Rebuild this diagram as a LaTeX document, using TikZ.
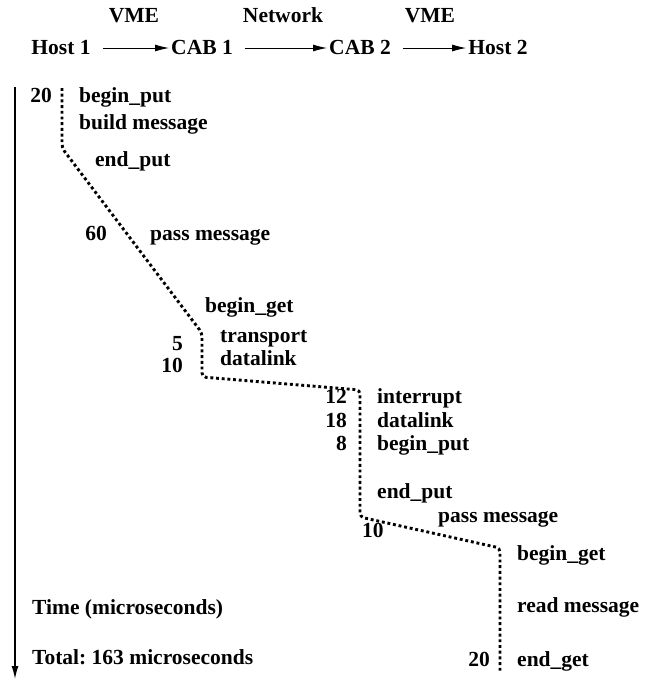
\documentclass[tikz,border=0pt]{standalone}
\usepackage{fontspec}
\setmainfont{Liberation Serif}
\usetikzlibrary{arrows.meta}
\frenchspacing
\begin{document}
\begin{tikzpicture}[x=1pt,y=-1pt,
  lbl/.style={font=\fontsize{21.5}{24}\selectfont\bfseries, inner sep=0pt},
  flow/.style={line width=1pt, -{Latex[length=14pt,width=7pt]}, shorten <=12pt, shorten >=2pt},
  axis/.style={line width=1.4pt, -{Latex[length=13pt,width=7pt]}},
  trace/.style={line width=2.9pt, dash pattern=on 2.9pt off 2.8pt, rounded corners=4pt}]
\useasboundingbox (0,0) rectangle (651,680);

% header: hosts and CABs
\node[lbl, anchor=base] (h1)   at (61,54)  {Host 1};
\node[lbl, anchor=base] (c1)   at (202,54) {CAB 1};
\node[lbl, anchor=base] (c2)   at (360,54) {CAB 2};
\node[lbl, anchor=base] (h2)   at (498,54) {Host 2};
\node[lbl, anchor=base] (vme1) at (134,23) {VME};
\node[lbl, anchor=base] (net)  at (283,23) {Network};
\node[lbl, anchor=base] (vme2) at (430,23) {VME};
\draw[flow] (h1.east |- 0,48) -- (c1.west |- 0,48);
\draw[flow] (c1.east |- 0,48) -- (c2.west |- 0,48);
\draw[flow] (c2.east |- 0,48) -- (h2.west |- 0,48);

% time axis
\coordinate (t0) at (15,87);
\coordinate (t1) at (15,679);
\draw[axis] (t0) -- (t1);

% message trace
\coordinate (p0) at (62,88);
\coordinate (p1) at (62,148);
\coordinate (p2) at (202,333);
\coordinate (p3) at (202,377);
\coordinate (p4) at (360,390);
\coordinate (p5) at (360,517);
\coordinate (p6) at (500,548);
\coordinate (p7) at (500,672);
\draw[trace] (p0) -- (p1) -- (p2) -- (p3) -- (p4) -- (p5) -- (p6) -- (p7);

% host 1
\node[lbl, anchor=base east] (n20a) at (52,102)  {20};
\node[lbl, anchor=base west] (bp1)  at (79,102)  {begin\_put};
\node[lbl, anchor=base west] (bm)   at (79,129)  {build message};
\node[lbl, anchor=base west] (ep1)  at (95,166)  {end\_put};
\node[lbl, anchor=base east] (n60)  at (107,240) {60};
\node[lbl, anchor=base west] (pm1)  at (150,240) {pass message};

% CAB 1
\node[lbl, anchor=base west] (bg1)  at (205,312) {begin\_get};
\node[lbl, anchor=base west] (tr)   at (220,342) {transport};
\node[lbl, anchor=base east] (n5)   at (183,350) {5};
\node[lbl, anchor=base west] (dl1)  at (220,365) {datalink};
\node[lbl, anchor=base east] (n10a) at (183,372) {10};

% CAB 2
\node[lbl, anchor=base east] (n12)  at (347,403) {12};
\node[lbl, anchor=base west] (ir)   at (377,403) {interrupt};
\node[lbl, anchor=base east] (n18)  at (347,427) {18};
\node[lbl, anchor=base west] (dl2)  at (377,427) {datalink};
\node[lbl, anchor=base east] (n8)   at (347,450) {8};
\node[lbl, anchor=base west] (bp2)  at (377,450) {begin\_put};
\node[lbl, anchor=base west] (ep2)  at (377,498) {end\_put};
\node[lbl, anchor=base west] (pm2)  at (438,522) {pass message};
\node[lbl, anchor=base west] (n10b) at (362,537) {10};

% host 2
\node[lbl, anchor=base west] (bg2)  at (517,560) {begin\_get};
\node[lbl, anchor=base west] (rm)   at (517,612) {read message};
\node[lbl, anchor=base east] (n20b) at (490,666) {20};
\node[lbl, anchor=base west] (eg)   at (517,666) {end\_get};

% legend
\node[lbl, anchor=base west] (tm)   at (32,614) {Time (microseconds)};
\node[lbl, anchor=base west] (tot)  at (32,664) {Total: 163 microseconds};
\end{tikzpicture}
\end{document}
